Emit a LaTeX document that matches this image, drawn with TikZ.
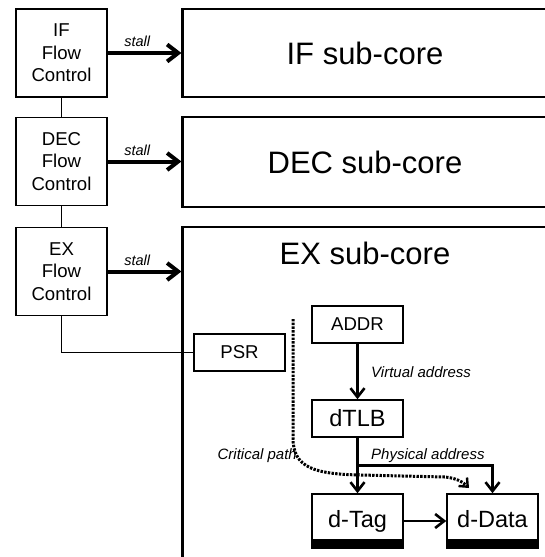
\documentclass[tikz,border=0pt]{standalone}
\usepackage{fontspec}
\setmainfont{Liberation Sans}
\usetikzlibrary{arrows.meta,calc}
\begin{document}
\begin{tikzpicture}[x=1pt,y=-1pt,
  box/.style={draw, line width=1.5pt, inner sep=0pt, align=center},
  fcbox/.style={box, minimum width=91pt, minimum height=88pt, font=\fontsize{18.6}{22.5}\selectfont},
  subbox/.style={draw, line width=2.2pt, inner sep=0pt, minimum width=365pt, font=\fontsize{31}{36}\selectfont},
  bigtext/.style={inner sep=0pt, font=\fontsize{31}{36}\selectfont},
  unit/.style={box, minimum width=91pt, minimum height=37pt, font=\fontsize{18.6}{22}\selectfont},
  bigunit/.style={box, minimum width=91pt, font=\fontsize{23.5}{28}\selectfont},
  stallarrow/.style={line width=4pt, -{Straight Barb[length=11pt,width=17pt,line width=4pt]}},
  conn/.style={line width=2.6pt, -{Straight Barb[length=9pt,width=14pt,line width=2.6pt]}},
  link/.style={line width=1pt},
  lbl/.style={font=\fontsize{15}{18}\selectfont\itshape, inner sep=0pt},
  stl/.style={font=\fontsize{14.5}{17}\selectfont\itshape, inner sep=0pt},
  critical/.style={line width=3pt, dash pattern=on 2.4pt off 1.3pt, -{Straight Barb[length=7pt,width=12pt,line width=2.4pt]}},
]
\useasboundingbox (0,0) rectangle (545,557);
\clip (0,0) rectangle (545,557);

% flow control boxes
\node[fcbox] (iffc) at (61.5,53) {IF\\Flow\\Control};
\node[fcbox] (decfc) at (61.5,161.5) {DEC\\Flow\\Control};
\node[fcbox] (exfc) at (61.5,271.5) {EX\\Flow\\Control};

% sub-cores
\node[subbox, minimum height=88pt] (ifsub) at (365,53) {IF sub-core};
\node[subbox, minimum height=90pt] (decsub) at (365,162) {DEC sub-core};
\node[subbox, minimum height=360pt] (exsub) at (365,407) {};
\node[bigtext] (extitle) at (365,253) {EX sub-core};

% EX internals
\node[unit] (psr) at (239.5,352.5) {PSR};
\node[unit] (addr) at (357.5,324.5) {ADDR};
\node[bigunit, minimum height=37pt] (dtlb) at (357.5,418.5) {dTLB};
\node[bigunit, minimum height=54pt] (dtag) at (357.5,521) {\raisebox{4pt}{d-Tag}};
\node[bigunit, minimum height=54pt] (ddata) at (492.5,521) {\raisebox{4pt}{d-Data}};
\fill (dtag.south west) rectangle ([yshift=10pt]dtag.south east);
\fill (ddata.south west) rectangle ([yshift=10pt]ddata.south east);

% stall arrows
\draw[stallarrow] (iffc.east) -- node[stl, above=4pt, pos=0.4] (st1) {stall} (iffc.east -| ifsub.west);
\draw[stallarrow] (decfc.east) -- node[stl, above=4pt, pos=0.4] (st2) {stall} (decfc.east -| decsub.west);
\draw[stallarrow] (exfc.east) -- node[stl, above=4pt, pos=0.4] (st3) {stall} (exfc.east -| exsub.west);

% flow control links
\draw[link] (iffc) -- (decfc);
\draw[link] (decfc) -- (exfc);
\draw[link] (exfc.south) |- (psr.west);

% datapath
\draw[conn] (addr) -- (dtlb);
\draw[conn] (dtlb) -- (dtag);
\draw[conn] ($(dtlb.south)!0.5!(dtag.north)$) -| (ddata.north);
\draw[conn] (dtag) -- (ddata);

\node[lbl, anchor=west] (va) at (371,372) {Virtual address};
\node[lbl, anchor=west] (pa) at (371,456) {Physical address};
\node[lbl, anchor=east] (cp) at (297,456) {Critical path};

% critical path
\coordinate (cps) at (293,319);
\coordinate (cpe) at (469,488);
\draw[critical] (cps) -- (293,438) .. controls (293,468) and (315,474) .. (360,475) -- (445,477) .. controls (456,478) and (463,482) .. (cpe);
\end{tikzpicture}
\end{document}
